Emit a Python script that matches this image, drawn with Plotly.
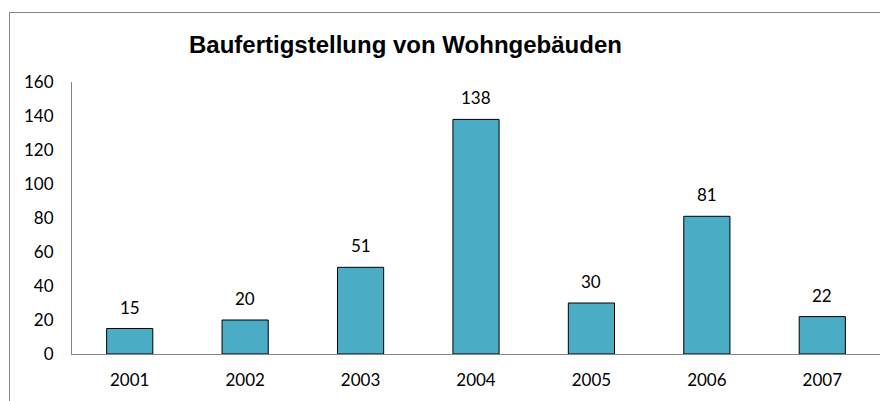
import plotly.graph_objects as go

years = ["2001", "2002", "2003", "2004", "2005", "2006", "2007"]
values = [15, 20, 51, 138, 30, 81, 22]
y_ticks = [0, 20, 40, 60, 80, 100, 120, 140, 160]
title_text = "Baufertigstellung von Wohngebäuden"

OFF = 8  # browser body margin
W, H = 888 - OFF, 401 - OFF
L, R, T, B = 72 - OFF, 8, 82 - OFF, 47
pw, ph = W - L - R, H - T - B

def px_to_paper_x(px):
    return (px - OFF - L) / pw

def px_to_paper_y(py):
    return (H - B - (py - OFF)) / ph

fig = go.Figure()
fig.add_trace(go.Bar(
    x=years, y=values, width=0.4,
    marker=dict(color="#4bacc6", line=dict(color="#000000", width=1)),
    hoverinfo="skip",
))

for i, v in enumerate(values):
    fig.add_annotation(x=i, y=v, text=str(v), showarrow=False, yanchor="bottom",
                       yshift=9, font=dict(family="Lato", size=17, color="#000000"))

fig.add_annotation(xref="paper", yref="paper", x=px_to_paper_x(405.5), y=px_to_paper_y(44),
                   text="<b>" + title_text + "</b>", showarrow=False,
                   xanchor="center", yanchor="middle",
                   font=dict(family="Liberation Sans", size=24, color="#000000"))

# chart border (left and top visible)
fig.add_shape(type="line", xref="paper", yref="paper", x0=px_to_paper_x(9.5), x1=px_to_paper_x(9.5),
              y0=px_to_paper_y(410), y1=px_to_paper_y(12.5), line=dict(color="#868686", width=1))
fig.add_shape(type="line", xref="paper", yref="paper", x0=px_to_paper_x(9.5), x1=px_to_paper_x(895),
              y0=px_to_paper_y(12.5), y1=px_to_paper_y(12.5), line=dict(color="#868686", width=1))

fig.update_layout(
    width=W, height=H,
    margin=dict(l=L, r=R, t=T, b=B, autoexpand=False),
    paper_bgcolor="white", plot_bgcolor="white",
    showlegend=False,
    font=dict(family="Lato", size=17, color="#000000"),
    xaxis=dict(type="category", range=[-0.5, 6.5], showline=True, linecolor="#868686", linewidth=1,
               showgrid=False, zeroline=False, automargin=False,
               ticks="outside", ticklen=11, tickcolor="rgba(0,0,0,0)",
               tickfont=dict(family="Lato", size=17, color="#000000")),
    yaxis=dict(range=[0, 160], tickvals=y_ticks, showline=True, linecolor="#868686", linewidth=1,
               showgrid=False, zeroline=False, automargin=False,
               ticks="outside", ticklen=14, tickcolor="rgba(0,0,0,0)",
               tickfont=dict(family="Lato", size=17, color="#000000")),
)

fig.write_html("out.html")
